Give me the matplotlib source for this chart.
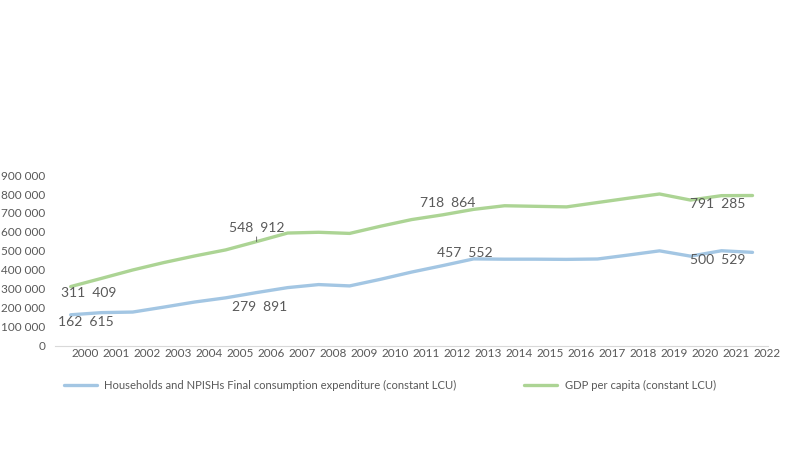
import matplotlib.pyplot as plt
import numpy as np

plt.rcParams['font.family'] = ['Lato', 'DejaVu Sans']

years = list(range(2000, 2023))
households = [162615, 174000, 177000, 203000, 230000, 252000, 279891, 306000,
              322000, 315000, 350000, 388000, 422000, 457552, 456000, 456000,
              455000, 457000, 478000, 500000, 472000, 500529, 492000]
gdp_per_capita = [311409, 355000, 399000, 438000, 473000, 505000, 548912, 594000,
                  598000, 592000, 630000, 665000, 690000, 718864, 738000, 735000,
                  732000, 755000, 778000, 800000, 768000, 791285, 792000]
series_names = ['Households and NPISHs Final consumption expenditure (constant LCU)',
                'GDP per capita (constant LCU)']
labelled_years = [2000, 2006, 2013, 2021]

blue = '#a3c6e3'
green = '#acd494'
grey = '#595959'

fig = plt.figure(figsize=(8, 4.5), dpi=100)
ax = fig.add_axes([0.069, 0.232, 0.891, 0.379])

x = np.arange(len(years))
ax.plot(x, households, color=blue, lw=2.4, solid_capstyle='round', label=series_names[0])
ax.plot(x, gdp_per_capita, color=green, lw=2.4, solid_capstyle='round', label=series_names[1])

ax.set_xlim(-0.5, len(years) - 0.5)
ax.set_ylim(0, 900000)
ax.set_yticks(np.arange(0, 900001, 100000))
ax.set_yticklabels([f'{v:,}'.replace(',', ' ') for v in range(0, 900001, 100000)])
# year labels sit about half a category to the right of the points, as in the original
ax.set_xticks(x + 0.48)
ax.set_xticklabels([str(y) for y in years])

ax.tick_params(axis='both', length=0, labelsize=8.5, colors=grey)
ax.tick_params(axis='y', pad=7)
ax.tick_params(axis='x', pad=1.5)
for s in ['top', 'right', 'left']:
    ax.spines[s].set_visible(False)
ax.spines['bottom'].set_color('#d9d9d9')

def fmt(v):
    return f'{v:,}'.replace(',', '  ')

# data labels (offsets in points)
offsets_h = {2000: (11, -1), 2006: (2, -6.4), 2013: (-6, 0.2), 2021: (-3, -2.4)}
offsets_g = {2000: (13, -0.5), 2006: (0, 5.4), 2013: (-18.5, 0.5), 2021: (-3, -1.4)}
for yr in labelled_years:
    i = years.index(yr)
    dx, dy = offsets_h[yr]
    ax.annotate(fmt(households[i]), (i, households[i]), xytext=(dx, dy),
                textcoords='offset points', ha='center',
                va='bottom' if dy > 0 else 'top', fontsize=10, color=grey)
    dx, dy = offsets_g[yr]
    arrow = dict(arrowstyle='-', color=grey, lw=0.6, shrinkA=0, shrinkB=0) if yr == 2006 else None
    ax.annotate(fmt(gdp_per_capita[i]), (i, gdp_per_capita[i]), xytext=(dx, dy),
                textcoords='offset points', ha='center',
                va='bottom' if dy > 0 else 'top', fontsize=10, color=grey,
                arrowprops=arrow)

fig.legend(loc='center left', bbox_to_anchor=(0.08, 1 - 385.7 / 450), ncol=2, frameon=False,
           fontsize=8.1, labelcolor=grey, handlelength=2.9, handletextpad=0.7,
           columnspacing=6.0, borderaxespad=0, borderpad=0)

fig.savefig('out.png', dpi=100)
